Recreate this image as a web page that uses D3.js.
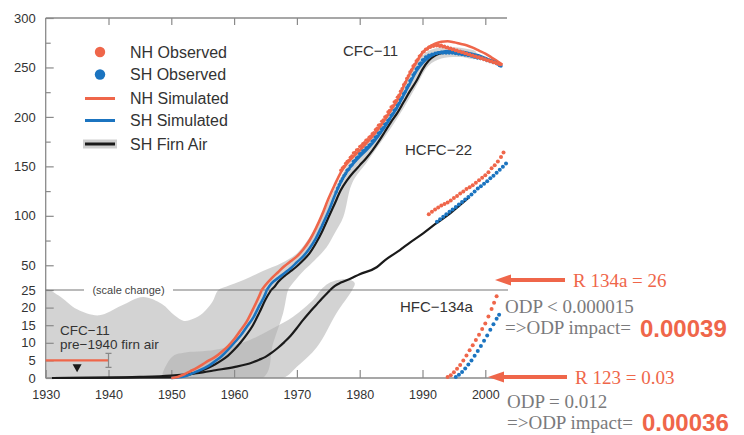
<!DOCTYPE html>
<html><head><meta charset="utf-8">
<script src="https://cdn.jsdelivr.net/npm/d3@7"></script>
<style>body{margin:0;background:#fff}svg{display:block}</style>
</head><body><svg id="c" width="744" height="435"></svg>
<script>
// ---------------- DATA ----------------
const xTicks = [1930,1940,1950,1960,1970,1980,1990,2000];
const yMajorTicks = [0,5,10,15,20,25,50,100,150,200,250,300];
const yMinorTicks = [75,125,175,225,275];
const legendItems = ["NH Observed","SH Observed","NH Simulated","SH Simulated","SH Firn Air"];

// CFC-11 simulated (ppt)
const nhSimCFC11 = [[1950,0],[1951,0.3],[1952,1],[1953,1.9],[1954,2.8],[1955,3.9],[1956,5],[1957,6],[1958,7.4],[1959,9],[1960,11],[1961,13.5],[1962,16],[1963,19.5],[1964,23.3],[1964.4,25],[1965,30],[1966,37],[1967,43],[1968,49],[1969,54],[1970,59],[1971,66],[1972,75],[1973,87],[1974,101],[1975,117],[1976,131],[1977,144],[1978,153],[1979,160],[1980,166],[1981,173],[1982,180],[1983,188],[1984,197],[1985,207],[1986,217],[1987,231],[1988,244],[1989,255],[1990,265],[1991,270.5],[1992,274],[1993,276],[1994,276.5],[1995,275.5],[1996,274],[1997,272.5],[1998,270],[1999,267],[2000,264],[2001,260],[2002,256],[2002.7,253]];
const shSimCFC11 = [[1950,0],[1952,0.4],[1954,1.8],[1956,3.5],[1957,4.8],[1958,6.2],[1959,8],[1960,10],[1961,12],[1962,14.5],[1963,17],[1964,20.5],[1965,24],[1965.2,25],[1966,32],[1967,37],[1968,42],[1969,47],[1970,53],[1971,59],[1972,67],[1973,77],[1974,90],[1975,104],[1976,120],[1977,134],[1978,145],[1979,153],[1980,160],[1981,166],[1982,173],[1983,181],[1984,190],[1985,200],[1986,210],[1987,222],[1988,234],[1989,246],[1990,254.5],[1991,260],[1992,264],[1993,265.5],[1994,266.5],[1995,266.5],[1996,266],[1997,265],[1998,263.5],[1999,262],[2000,259.5],[2001,257],[2002,254],[2002.5,252]];
// SH firn air reconstructions
const firnCFC11 = [[1931,0],[1950,0.2],[1952,0.6],[1954,1.6],[1956,3],[1957,3.9],[1958,5],[1959,6.3],[1960,8],[1961,10],[1962,12.3],[1963,15],[1964,18.5],[1965,22.3],[1965.9,25],[1966.4,28],[1967,33],[1968,39],[1969,44],[1970,49],[1971,55],[1972,62],[1973,72],[1974,84],[1975,98],[1976,112],[1977,126],[1978,136],[1979,144],[1980,151],[1981,158],[1982,166],[1983,175],[1984,185],[1985,195],[1986,204],[1987,215],[1988,226],[1989,236],[1990,248],[1991,257],[1992,262],[1993,264.5],[1994,265.5],[1995,266],[1996,266]];
const firnHCFC22 = [[1931,0],[1940,0.1],[1945,0.3],[1950,0.7],[1952,1],[1955,1.6],[1957,2.2],[1960,3.1],[1962,3.9],[1963,4.5],[1964,5.2],[1965,6],[1966,7.2],[1967,8.6],[1968,10.2],[1969,12],[1970,14.2],[1971,16.5],[1972,18.6],[1973,20.6],[1974,22.6],[1975,24.4],[1975.3,25],[1976,29],[1977,32.5],[1978.5,36.3],[1980,41],[1982.7,48],[1984,55],[1986.4,65.4],[1988,73],[1990.1,82.3],[1992,91.5],[1994.4,102.5],[1996,111],[1997.5,119]];

// Observations (ppt) -- CFC-11 quarterly records
const nhObsCFC11Start = 1977, shObsCFC11Start = 1976.25, obsStep = 0.25;
const nhObsCFC11Vals = [146,148.5,150,153, 155,156,159,160.5, 163.5,164,166.5,167, 170,171,173,174, 176.5,177,179.5,180.5, 183,184,187,188.5, 191.5,192,195.5,197, 200,201,205,206.5, 210,211,215,216.5, 220,222,226,228.5, 232.5,234.5,239,241.5, 245.5,247.5,251.5,253, 256.5,258,261.5,262.5, 265.5,266,268.5,268.5, 270.5,270.5,272,271.5, 273,272,273,271.5, 272.5,271,271.5,270, 270.5,269,269.5,268, 268.5,267,267.5,266, 266.5,265,265.5,264, 264.5,263,263.5,262, 262.5,261,261.5,260, 260.5,259,259.5,258, 258.5,257,257.5,256, 256.5,255,255.5,254, 254.5,253,253];
const shObsCFC11Vals = [124,128,131.5, 135,137.5,140.5,142.5, 146,147,150.5,151.5, 155,156,158.5,159.5, 162.5,163,165.5,166, 168.5,169,171.5,172.5, 175.5,176.5,179.5,180.5, 183.5,184.5,187.5,189, 192.5,193.5,196.5,198, 201.5,203,206.5,208, 211.5,213.5,217.5,219.5, 223.5,225.5,229.5,232, 236.5,238.5,242.5,244.5, 248.5,250,253.5,254.5, 257.5,258,260.5,260.5, 262.5,262,263.5,263, 264.5,264,265,264.5, 265.5,264.5,265.5,264.5, 265.5,264.5,265.5,264.5, 265,264,264.5,263.5, 264,263,263.5,262.5, 263,262,262.5,261.5, 261.5,260.5,260.5,259.5, 260,259,259.5,258.5, 258.5,257,257.5,256, 256.5,255,255.5,254, 253.5,252,251.5];
const nhObsHCFC22 = [[1991,101.5],[1991.5,104],[1992,106.5],[1992.5,108.5],[1993,110.5],[1993.5,112],[1994,113.5],[1994.5,115.5],[1995,118],[1995.5,120],[1996,122.5],[1996.5,124.5],[1997,127],[1997.5,129],[1998,131],[1998.5,133.5],[1999,136],[1999.5,138.5],[2000,141],[2000.5,144],[2001,148],[2001.5,151],[2002,155],[2002.5,159.5],[2002.9,164]];
const shObsHCFC22 = [[1992.3,94],[1992.8,96.5],[1993.3,99],[1993.8,101.5],[1994.3,104],[1994.8,106.5],[1995.3,109],[1995.8,111.5],[1996.3,114],[1996.8,116.5],[1997.3,119],[1997.8,121.5],[1998.3,124.5],[1998.8,127.5],[1999.3,130],[1999.8,132.5],[2000.3,135],[2000.8,138],[2001.3,140.5],[2001.8,143.5],[2002.3,146.5],[2002.8,149.5],[2003.3,153]];
const nhObsHFC134a = [[1994,0.3],[1994.5,0.8],[1995,1.6],[1995.5,2.6],[1996,3.7],[1996.5,5],[1997,6.4],[1997.5,7.9],[1998,9.3],[1998.5,10.8],[1999,12.3],[1999.5,13.9],[2000,15.5],[2000.5,17.5],[2001,19.6],[2001.4,21.4],[2001.8,23.2]];
const shObsHFC134a = [[1995.3,0.3],[1995.8,0.9],[1996.3,1.7],[1996.8,2.7],[1997.3,3.8],[1997.8,5],[1998.3,6.3],[1998.8,7.7],[1999.3,9.1],[1999.8,10.6],[2000.3,12.1],[2000.8,13.7],[2001.3,15.3],[2001.8,16.8],[2002.2,18]];

// uncertainty envelopes (closed outlines, year/ppt)
const bandCFC11 = [[1930,0],[1930,25],[1932,23.5],[1935,19.5],[1938.5,17.8],[1942,20.5],[1945.5,23],[1948.5,21],[1950.5,17.8],[1952,16.2],[1953.5,16.8],[1955,18.4],[1956.5,21.5],[1957.5,25],[1958.8,28.5],[1961.5,35],[1964.5,44],[1967.5,52],[1970,62],[1972,78],[1974,100],[1976,127],[1978,150],[1980,165],[1982,179],[1984,197],[1986,218],[1988,243],[1989.5,259],[1991,267],[1993,270.5],[1995,270.5],[1997,269],[1998.5,266],[1998.5,259],[1996,260.5],[1993,259],[1991,252],[1989,231],[1987,209],[1985,189],[1983,171],[1981,153],[1979.3,139],[1978.5,128],[1977.4,99],[1976,82],[1974.7,68],[1972.5,53],[1971,44],[1970,37],[1969,29],[1968.6,25],[1967.8,18.4],[1966.2,9.8],[1964.6,0],[1947,0]];
const bandHCFC22 = [[1948.7,0],[1949.3,4],[1950.5,6.5],[1952,7.2],[1957,8],[1962.5,10.8],[1966.2,14.1],[1969.4,17.4],[1972.6,22.2],[1973.8,25],[1975,31.5],[1976.5,35],[1978,36],[1979.2,32],[1978.8,25],[1976.3,18.4],[1973.2,8.8],[1970,3.2],[1967.8,0],[1958,0]];

// pre-1940 firn air estimate
const pre1940 = {start:1930, end:1940, value:5, lo:3, hi:7, limitYear:1935, limitValue:2.8};

// ---------------- CHART ----------------
const ORANGE = "#ef664a", BLUE = "#1b74c0", FONT = "'Liberation Sans', Arial, sans-serif";
const svg = d3.select("#c");
const x = d3.scaleLinear().domain([1930,2000]).range([45.7,485.3]);
const y = d3.scaleLinear().domain([0,25,300]).range([378,290,18]);

const nhObsCFC11 = nhObsCFC11Vals.map((v,i)=>[nhObsCFC11Start+i*obsStep, v]);
const shObsCFC11 = shObsCFC11Vals.map((v,i)=>[shObsCFC11Start+i*obsStep, v]);

svg.append("defs").append("clipPath").attr("id","plot")
  .append("rect").attr("x",x(1930)).attr("y",y(300)).attr("width",510-x(1930)).attr("height",y(0)-y(300));

const gBand = svg.append("g").attr("clip-path","url(#plot)");
const poly = d3.line().x(d=>x(d[0])).y(d=>y(d[1])).curve(d3.curveCatmullRomClosed.alpha(0.5));
[bandCFC11, bandHCFC22].forEach(b=>{
  gBand.append("path").attr("d",poly(b)).attr("fill","#aeaeae").attr("fill-opacity",0.55);
});

// axes
const axisCol = "#8a8a8a";
const gL = svg.append("g").attr("transform",`translate(${x(1930)},0)`)
  .call(d3.axisLeft(y).tickValues(yMajorTicks).tickSizeInner(-8).tickSizeOuter(0).tickPadding(10));
gL.append("g").call(d3.axisLeft(y).tickValues(yMinorTicks).tickSizeInner(-5).tickSizeOuter(0).tickFormat(""));
const gB = svg.append("g").attr("transform",`translate(0,${y(0)})`)
  .call(d3.axisBottom(x).tickValues(xTicks).tickFormat(d3.format("d")).tickSizeInner(-8).tickSizeOuter(0).tickPadding(12));
const gT = svg.append("g").attr("transform",`translate(0,${y(300)})`)
  .call(d3.axisTop(x).tickValues(xTicks.slice(1)).tickSizeInner(-7).tickSizeOuter(0).tickFormat(""));
[gL,gB,gT].forEach(g=>{
  g.selectAll(".domain").remove();
  g.selectAll("line").attr("stroke",axisCol).attr("stroke-width",1.2);
  g.selectAll("text").attr("fill","#333").attr("font-family",FONT).attr("font-size",13);
});
gB.selectAll("text").attr("font-size",12.5);
svg.append("line").attr("x1",x(1930)).attr("x2",x(1930)).attr("y1",y(300)).attr("y2",y(0)).attr("stroke",axisCol).attr("stroke-width",1.3);
svg.append("line").attr("x1",x(1930)).attr("x2",510).attr("y1",y(0)).attr("y2",y(0)).attr("stroke",axisCol).attr("stroke-width",1.3);
svg.append("line").attr("x1",x(1930)).attr("x2",507).attr("y1",y(300)).attr("y2",y(300)).attr("stroke",axisCol).attr("stroke-width",1.3);
// scale change line
svg.append("line").attr("x1",x(1930)).attr("x2",84).attr("y1",y(25)).attr("y2",y(25)).attr("stroke","#777").attr("stroke-width",1.2);
svg.append("line").attr("x1",173).attr("x2",508).attr("y1",y(25)).attr("y2",y(25)).attr("stroke","#777").attr("stroke-width",1.2);
svg.append("text").attr("x",128.5).attr("y",y(25)+4).attr("text-anchor","middle").attr("font-family",FONT).attr("font-size",11).attr("fill","#444").text("(scale change)");

// lines, split at the scale change so the kink is kept
const line = d3.line().x(d=>x(d[0])).y(d=>y(d[1])).curve(d3.curveMonotoneX);
function drawSplit(data, color, w){
  const lo = data.filter(d=>d[1]<=25), hi = data.filter(d=>d[1]>=25);
  [lo,hi].forEach(p=>{ if(p.length>1) svg.append("path").attr("d",line(p)).attr("fill","none").attr("stroke",color).attr("stroke-width",w).attr("stroke-linejoin","round"); });
}
drawSplit(firnHCFC22,"#1a1a1a",2.2);
drawSplit(firnCFC11,"#1a1a1a",2.2);
drawSplit(shSimCFC11,BLUE,2.6);
drawSplit(nhSimCFC11,ORANGE,2.6);

// observations
function dots(data,color,r){
  svg.append("g").selectAll("circle").data(data).join("circle")
    .attr("cx",d=>x(d[0])).attr("cy",d=>y(d[1])).attr("r",r).attr("fill",color);
}
dots(shObsCFC11,BLUE,1.7); dots(nhObsCFC11,ORANGE,1.7);
dots(shObsHCFC22,BLUE,2); dots(nhObsHCFC22,ORANGE,2);
dots(nhObsHFC134a,ORANGE,2); dots(shObsHFC134a,BLUE,2);

// pre-1940 marker
svg.append("line").attr("x1",x(pre1940.start)).attr("x2",x(pre1940.end)).attr("y1",y(pre1940.value)).attr("y2",y(pre1940.value)).attr("stroke",ORANGE).attr("stroke-width",2.4);
const ex = x(pre1940.end);
svg.append("path").attr("d",`M${ex},${y(pre1940.lo)}V${y(pre1940.hi)}M${ex-3},${y(pre1940.lo)}H${ex+3}M${ex-3},${y(pre1940.hi)}H${ex+3}`).attr("stroke","#888").attr("stroke-width",1.2).attr("fill","none");
const tx = x(pre1940.limitYear), ty = y(pre1940.limitValue);
svg.append("path").attr("d",`M${tx-4.5},${ty-4}L${tx+4.5},${ty-4}L${tx},${ty+4}Z`).attr("fill","#1a1a1a");
svg.append("text").attr("x",60).attr("y",334.5).attr("font-family",FONT).attr("font-size",13.5).attr("fill","#333").text("CFC\u221211");
svg.append("text").attr("x",60).attr("y",348.5).attr("font-family",FONT).attr("font-size",13.5).attr("fill","#333").text("pre\u22121940 firn air");

// species labels
const lab = (t,xx,yy)=>svg.append("text").attr("x",xx).attr("y",yy).attr("font-family",FONT).attr("font-size",15).attr("fill","#333").text(t);
lab("CFC\u221211",343,56); lab("HCFC\u221222",405,155); lab("HFC\u2212134a",400,312);

// legend
const ly = [52,74.5,98.5,120.5,144];
const lg = svg.append("g");
legendItems.forEach((t,i)=>{
  const yy = ly[i];
  if(i===0||i===1) lg.append("circle").attr("cx",100).attr("cy",yy).attr("r",5.2).attr("fill",i===0?ORANGE:BLUE);
  if(i===2||i===3) lg.append("line").attr("x1",85).attr("x2",115).attr("y1",yy).attr("y2",yy).attr("stroke",i===2?ORANGE:BLUE).attr("stroke-width",3);
  if(i===4){
    lg.append("rect").attr("x",83).attr("y",yy-4.5).attr("width",34).attr("height",9).attr("fill","#cfcfcf");
    lg.append("line").attr("x1",85).attr("x2",115).attr("y1",yy).attr("y2",yy).attr("stroke","#1a1a1a").attr("stroke-width",3);
  }
  lg.append("text").attr("x",130).attr("y",yy+5.5).attr("font-family",FONT).attr("font-size",16).attr("fill","#333").text(t);
});

// annotations
const SERIF = "'Liberation Serif','Times New Roman',serif";
function arrow(tip,tail,yy){
  svg.append("line").attr("x1",tip+14).attr("x2",tail).attr("y1",yy).attr("y2",yy).attr("stroke",ORANGE).attr("stroke-width",4);
  svg.append("path").attr("d",`M${tip},${yy}L${tip+16},${yy-5.5}L${tip+16},${yy+5.5}Z`).attr("fill",ORANGE);
}
arrow(495,565,280); arrow(488,567,377);
const st = (t,xx,yy,col,size,fam,w)=>svg.append("text").attr("x",xx).attr("y",yy).attr("font-family",fam).attr("font-size",size).attr("font-weight",w||"normal").attr("fill",col).text(t);
st("R 134a = 26",573,287,ORANGE,19,SERIF);
st("ODP < 0.000015",505,313,"#7a7a7c",19,SERIF);
st("=>ODP impact=",505,334,"#7a7a7c",19,SERIF);
st("0.00039",640,336.5,ORANGE,24,FONT,"bold");
st("R 123 = 0.03",575,384,ORANGE,19,SERIF);
st("ODP = 0.012",507,408,"#7a7a7c",19,SERIF);
st("=>ODP impact=",507,429,"#7a7a7c",19,SERIF);
st("0.00036",642,430.5,ORANGE,24,FONT,"bold");
</script></body></html>
